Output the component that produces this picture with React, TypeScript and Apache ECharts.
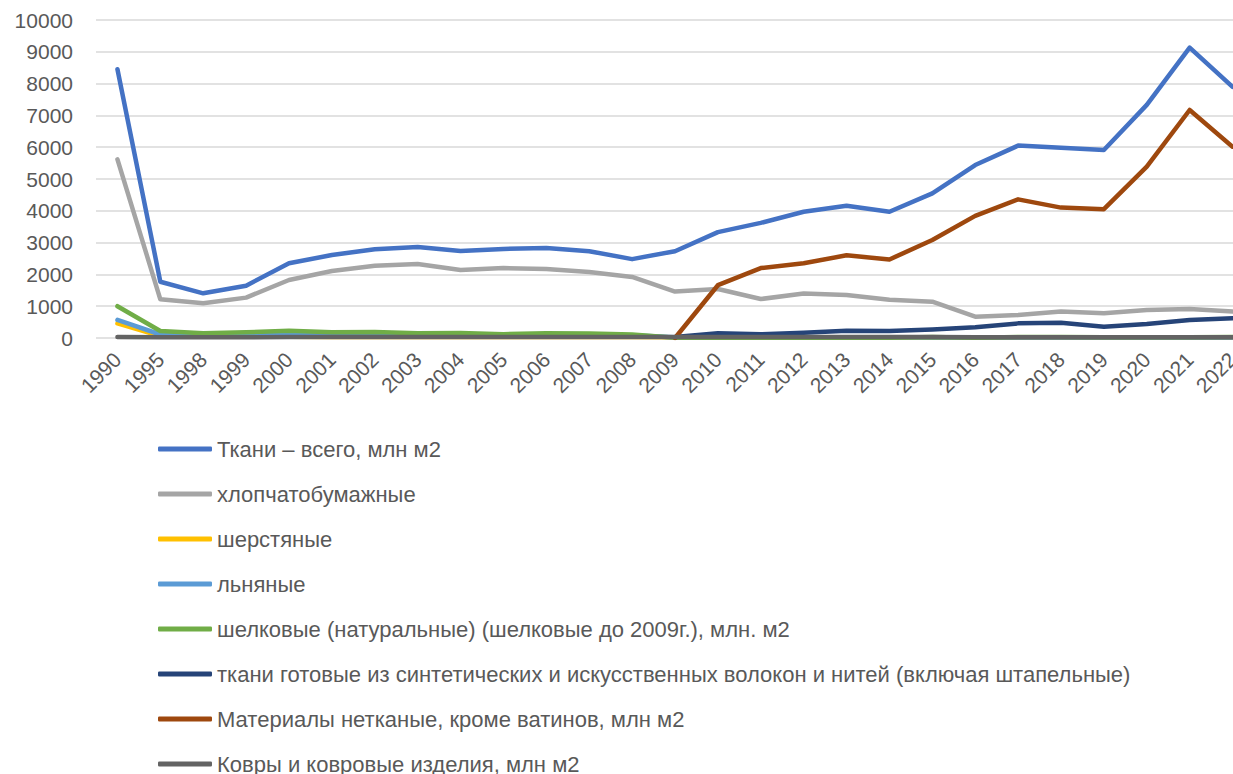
import React, { useEffect, useRef } from "react";
import * as echarts from "echarts";

const categories = [
  "1990", "1995", "1998", "1999", "2000", "2001", "2002", "2003", "2004", "2005",
  "2006", "2007", "2008", "2009", "2010", "2011", "2012", "2013", "2014", "2015",
  "2016", "2017", "2018", "2019", "2020", "2021", "2022",
];

const tkaniVsego = [8450, 1770, 1405, 1645, 2350, 2610, 2790, 2860, 2735, 2800, 2830, 2730, 2480, 2730, 3330, 3620, 3970, 4160, 3970, 4550, 5440, 6050, 5985, 5910, 7330, 9130, 7900];
const khlopchatobumazhnye = [5620, 1215, 1090, 1270, 1825, 2105, 2275, 2330, 2140, 2200, 2170, 2075, 1920, 1460, 1540, 1225, 1400, 1350, 1200, 1140, 670, 720, 830, 775, 880, 910, 830];
const sherstyanye = [460, 60, 40, 40, 40, 30, 30, 30, 30, 30, 30, 30, 30, 20, 20, 20, 20, 20, 20, 15, 15, 15, 15, 15, 20, 20, 20];
const lnyanye = [570, 110, 90, 90, 100, 80, 90, 100, 120, 100, 120, 110, 90, 20, 20, 20, 20, 20, 20, 15, 15, 15, 15, 15, 15, 15, 15];
const shelkovye = [1000, 220, 150, 180, 230, 180, 190, 150, 160, 120, 150, 140, 110, 10, 10, 10, 10, 10, 10, 30, 10, 30, 30, 20, 20, 20, 30];
const sinteticheskie = [null, null, null, null, null, null, null, null, null, null, null, null, null, 30, 150, 115, 165, 230, 220, 270, 335, 460, 480, 355, 440, 565, 620];
const netkanye = [null, null, null, null, null, null, null, null, null, null, null, null, null, 0, 1660, 2200, 2350, 2600, 2470, 3080, 3840, 4360, 4100, 4050, 5390, 7170, 6015];
const kovry = [30, 25, 25, 25, 30, 30, 30, 30, 30, 30, 30, 30, 30, 30, 30, 30, 30, 30, 30, 30, 25, 25, 25, 25, 25, 25, 25];

const seriesNames = [
  "Ткани – всего, млн м2",
  "хлопчатобумажные",
  "шерстяные",
  "льняные",
  "шелковые (натуральные) (шелковые до 2009г.), млн. м2",
  "ткани готовые из синтетических и искусственных волокон и нитей (включая штапельные)",
  "Материалы нетканые, кроме ватинов, млн м2",
  "Ковры и ковровые изделия, млн м2",
];
const seriesData = [tkaniVsego, khlopchatobumazhnye, sherstyanye, lnyanye, shelkovye, sinteticheskie, netkanye, kovry];
const colors = ["#4472C4", "#A5A5A5", "#FFC000", "#5B9BD5", "#70AD47", "#264478", "#9E480E", "#636363"];

const FONT = "'Liberation Sans', 'Noto Sans', sans-serif";

export default function App() {
  const ref = useRef<HTMLDivElement>(null);
  useEffect(() => {
    if (!ref.current) return;
    const chart = echarts.init(ref.current, undefined, { renderer: "svg" });
    chart.setOption({
      animation: false,
      color: colors,
      grid: { left: 96, top: 20, width: 1158, height: 318, outerBoundsMode: "none", containLabel: false },
      xAxis: {
        type: "category",
        data: categories,
        boundaryGap: true,
        axisLine: { show: false },
        axisTick: { show: false },
        axisLabel: {
          rotate: 45,
          interval: 0,
          color: "#595959",
          fontSize: 21,
          fontFamily: FONT,
          margin: 18,
          hideOverlap: false,
        },
      },
      yAxis: {
        type: "value",
        min: 0,
        max: 10000,
        interval: 1000,
        axisLine: { show: false },
        axisTick: { show: false },
        axisLabel: {
          color: "#595959",
          fontSize: 21,
          fontFamily: FONT,
          margin: 23,
          formatter: (v: number) => String(v),
        },
        splitLine: { lineStyle: { color: "#D9D9D9", width: 1.5 } },
      },
      legend: {
        orient: "vertical",
        left: 158,
        top: 438,
        height: 400,
        padding: 0,
        itemWidth: 54,
        itemHeight: 5,
        itemGap: 23,
        icon: "roundRect",
        textStyle: { color: "#595959", fontSize: 22, fontFamily: FONT, lineHeight: 22 },
        data: seriesNames,
      },
      series: seriesNames.map((name, i) => ({
        name,
        type: "line",
        data: seriesData[i],
        symbol: "none",
        showSymbol: false,
        lineStyle: { width: 4.5, color: colors[i], cap: "round", join: "round" },
        itemStyle: { color: colors[i] },
        connectNulls: false,
      })),
    });
    return () => chart.dispose();
  }, []);
  return (
    <div
      ref={ref}
      style={{ position: "fixed", left: 0, top: 0, width: 1233, height: 774, background: "#fff" }}
    />
  );
}
